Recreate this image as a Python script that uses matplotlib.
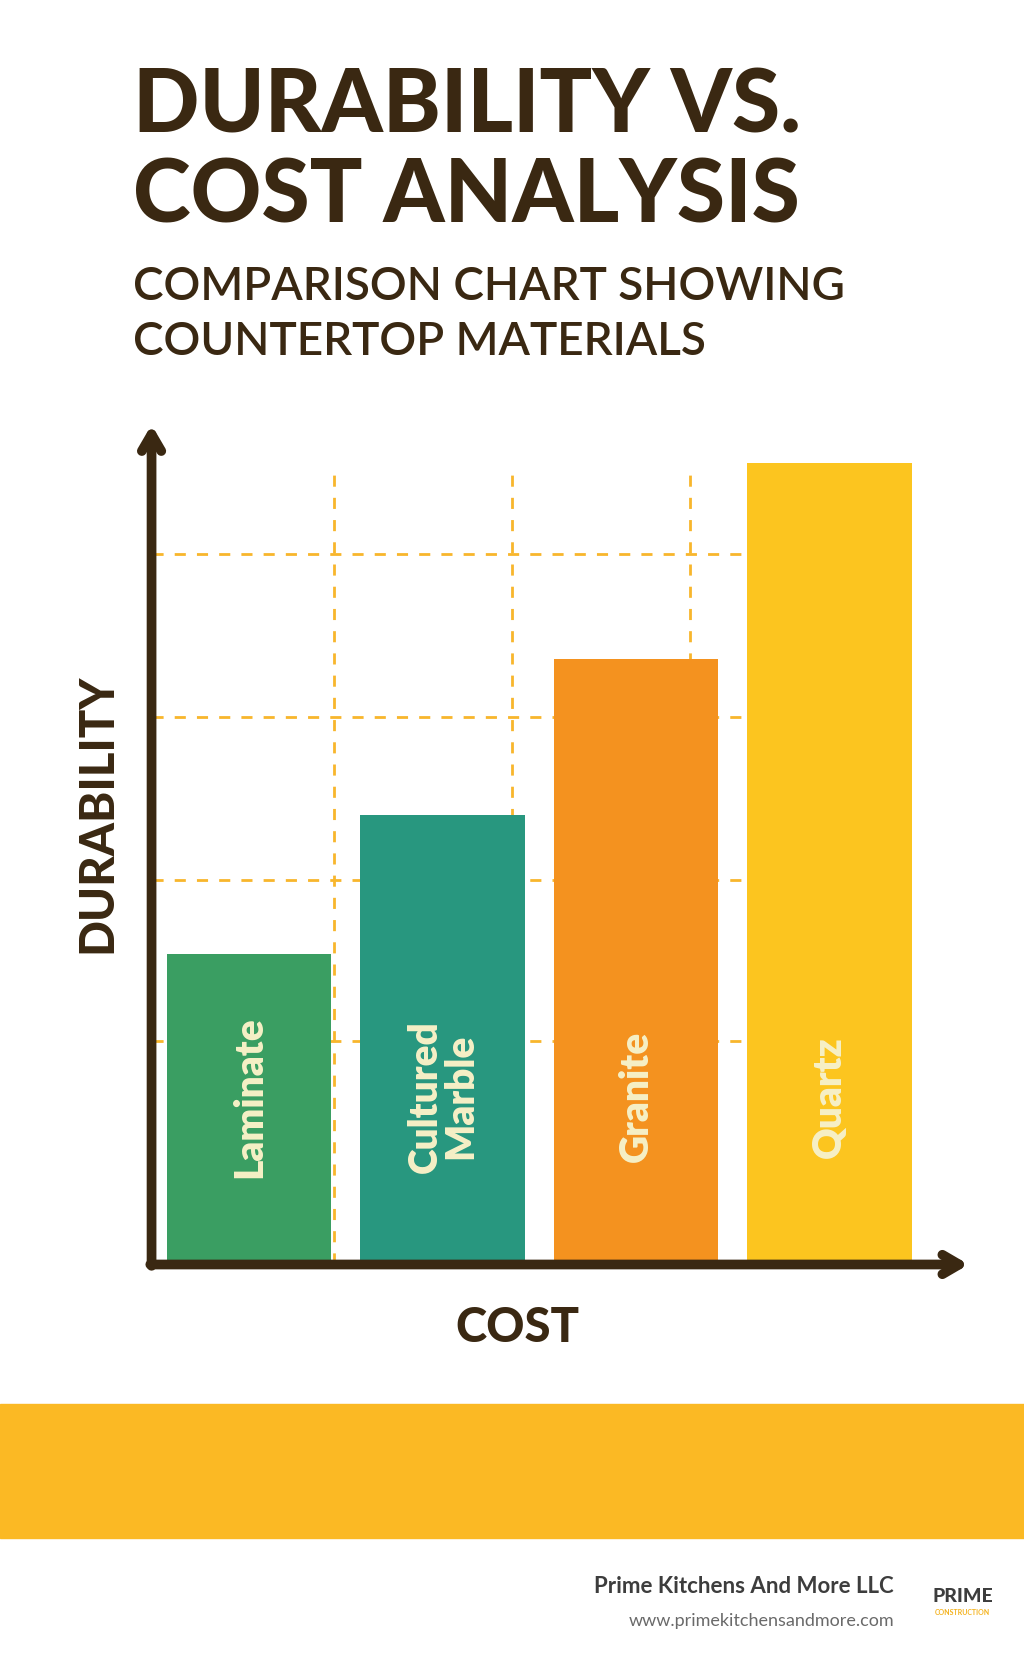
import matplotlib
matplotlib.use("Agg")
from matplotlib import pyplot as plt
from matplotlib.patches import Rectangle

materials = ["Laminate", "Cultured\nMarble", "Granite", "Quartz"]
durability = [38, 55, 74, 98]
bar_colors = ["#3a9e62", "#28977f", "#f4921f", "#fcc51f"]
grid_y = [27.3, 47, 66.9, 86.8]
grid_x = [0.44, 1.36, 2.28]

DARK = "#3a2812"
plt.rcParams['font.family'] = ['Lato', 'DejaVu Sans']

fig = plt.figure(figsize=(10.24, 16.66), dpi=100)
fig.patch.set_facecolor("white")

# Titel
fig.text(0.13, 0.936, "DURABILITY VS.", fontsize=63, fontweight="black", color=DARK, va="center")
fig.text(0.13, 0.882, "COST ANALYSIS", fontsize=63, fontweight="black", color=DARK, va="center")
fig.text(0.13, 0.828, "COMPARISON CHART SHOWING", fontsize=33, fontweight="semibold", color=DARK, va="center")
fig.text(0.13, 0.795, "COUNTERTOP MATERIALS", fontsize=33, fontweight="semibold", color=DARK, va="center")

# Diagramm
ax = fig.add_axes([0.148, 0.241, 0.785, 0.491])
ax.set_xlim(-0.505, 3.65)
ax.set_ylim(0, 100)
for y in grid_y:
    ax.axhline(y, xmax=0.75, color="#f8b62c", lw=2, ls=(0, (4, 4)), zorder=0)
for x in grid_x:
    ax.axvline(x, ymax=0.97, color="#f8b62c", lw=2, ls=(0, (4, 4)), zorder=0)

xs = range(len(materials))
ax.bar(xs, durability, width=0.85, color=bar_colors, zorder=2)
for i, (name, d) in enumerate(zip(materials, durability)):
    ax.text(i, 20.5, name, rotation=90, ha="center", va="center", fontsize=28,
            fontweight="heavy", color="#f6f0c6", zorder=3, linespacing=0.95)

for s in ax.spines.values():
    s.set_visible(False)
ax.set_xticks([])
ax.set_yticks([])
ax.patch.set_alpha(0)

# Achsenpfeile
ax.annotate("", xy=(0, 1.03), xytext=(0, -0.005), xycoords="axes fraction",
            arrowprops=dict(arrowstyle="->,head_length=1.2,head_width=0.7", lw=7, color=DARK,
                            capstyle="round", joinstyle="round"), annotation_clip=False)
ax.annotate("", xy=(1.02, 0), xytext=(-0.005, 0), xycoords="axes fraction",
            arrowprops=dict(arrowstyle="->,head_length=1.2,head_width=0.7", lw=7, color=DARK,
                            capstyle="round", joinstyle="round"), annotation_clip=False)

fig.text(0.095, 0.512, "DURABILITY", rotation=90, fontsize=34, fontweight="black", color=DARK,
         ha="center", va="center")
fig.text(0.505, 0.203, "COST", fontsize=34, fontweight="black", color=DARK, ha="center", va="center")

# Fusszeile
fig.patches.append(Rectangle((0, 0.077), 1, 0.08, transform=fig.transFigure, color="#fbb924", zorder=0))
fig.text(0.873, 0.048, "Prime Kitchens And More LLC", fontsize=16, fontweight="bold", color="#3d3d3d",
         ha="right", va="center")
fig.text(0.873, 0.027, "www.primekitchensandmore.com", fontsize=13, color="#6a6a6a", ha="right", va="center")
fig.text(0.94, 0.042, "PRIME", fontsize=14, fontweight="black", color="#3d3d3d", ha="center", va="center")
fig.text(0.94, 0.032, "CONSTRUCTION", fontsize=5, fontweight="bold", color="#f4b21c", ha="center", va="center")

fig.savefig("out.png", dpi=100)
